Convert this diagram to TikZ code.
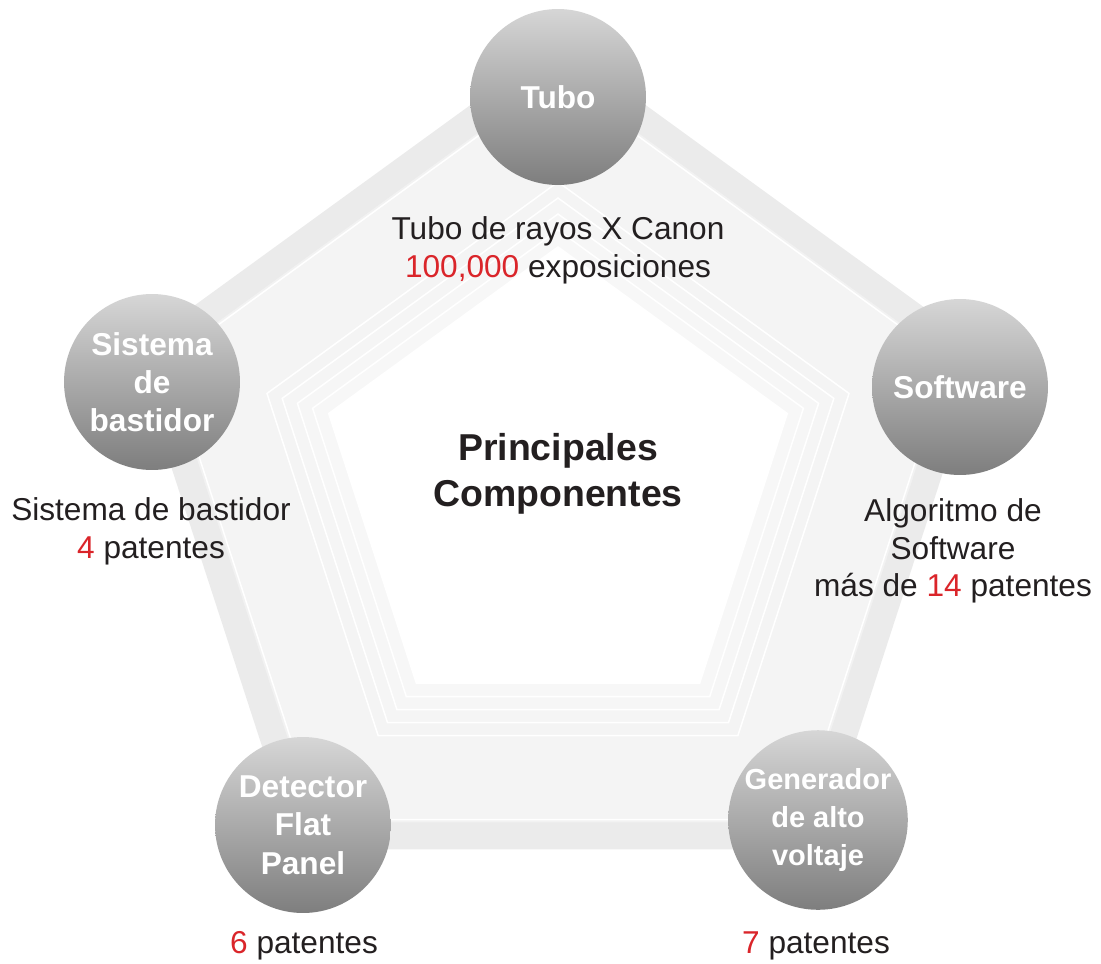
\documentclass[tikz,border=0pt]{standalone}
\usepackage{fontspec}
\setmainfont{Liberation Sans}
\usetikzlibrary{calc}
\definecolor{cBand}{RGB}{235, 235, 235}
\definecolor{cBallTop}{RGB}{214, 214, 214}
\definecolor{cBallBot}{RGB}{126, 126, 126}
\definecolor{cNum}{RGB}{218, 37, 42}
\definecolor{cInk}{RGB}{35, 31, 32}
\newcommand{\rojo}[1]{\textcolor{cNum}{#1}}
\tikzset{
    nodeComp/.style={
        shape=circle,
        minimum size=3.52cm,
        inner sep=0pt,
        top color=cBallTop,
        bottom color=cBallBot,
        text=white,
        align=center,
        font=\bfseries\fontsize{18}{21.8}\selectfont
    },
    nodeInfo/.style={
        text=cInk,
        align=center,
        inner sep=0pt,
        font=\fontsize{18}{21.5}\selectfont
    },
    nodeTitle/.style={
        text=cInk,
        align=center,
        inner sep=0pt,
        font=\bfseries\fontsize{21.3}{26}\selectfont
    },
    bandPenta/.style={
        draw=cBand,
        line width=15.3pt,
        line join=miter
    },
    ringPenta/.style={
        draw=white,
        line width=0.85pt,
        line join=miter
    },
}

\begin{document}
\begin{tikzpicture}[x=0.02cm,y=-0.02cm]
    \useasboundingbox (0,0) rectangle (1101,963);

	\pgfdeclarelayer{background}
	\pgfdeclarelayer{foreground}
	\pgfsetlayers{background,main,foreground}

	\begin{pgfonlayer}{background}
		\begin{scope}[shift={(558,488)}]
			\draw[bandPenta,fill=black!5] (-90:430) \foreach \a in {-18,54,126,198} {-- (\a:430)} -- cycle;

			\foreach \r/\c in {410/4.5,306/4.2,290/3.9,274/3.6,258/3.3}
			{
				\draw[ringPenta,fill=black!\c] (-90:\r) \foreach \a in {-18,54,126,198} {-- (\a:\r)} -- cycle;
			}
			\fill[white] (-90:242) \foreach \a in {-18,54,126,198} {-- (\a:242)} -- cycle;
		\end{scope}
	\end{pgfonlayer}

	\begin{pgfonlayer}{foreground}
        \node[nodeComp] (tubo) at (558, 97) {Tubo};
        \node[nodeComp] (soft) at (960, 387) {Software};
        \node[nodeComp,font=\bfseries\fontsize{16.5}{21.8}\selectfont] (gen) at (818, 820) {Generador\\de alto\\voltaje};
        \node[nodeComp] (det) at (303, 825) {Detector\\Flat\\Panel};
        \node[nodeComp] (sis) at (152, 382) {Sistema\\de\\bastidor};

        \node[nodeInfo] (tuboInfo) at (558, 250) {Tubo de rayos X Canon\\\rojo{100,000} exposiciones};
        \node[nodeInfo] (softInfo) at (953, 551) {Algoritmo de\\Software\\más de \rojo{14} patentes};
        \node[nodeInfo] (genInfo) at (816, 946) {\rojo{7} patentes};
        \node[nodeInfo] (detInfo) at (304, 946) {\rojo{6} patentes};
        \node[nodeInfo] (sisInfo) at (151, 531) {Sistema de bastidor\\\rojo{4} patentes};

        \node[nodeTitle] (centro) at (558, 474) {Principales\\Componentes};
	\end{pgfonlayer}
\end{tikzpicture}
\end{document}
